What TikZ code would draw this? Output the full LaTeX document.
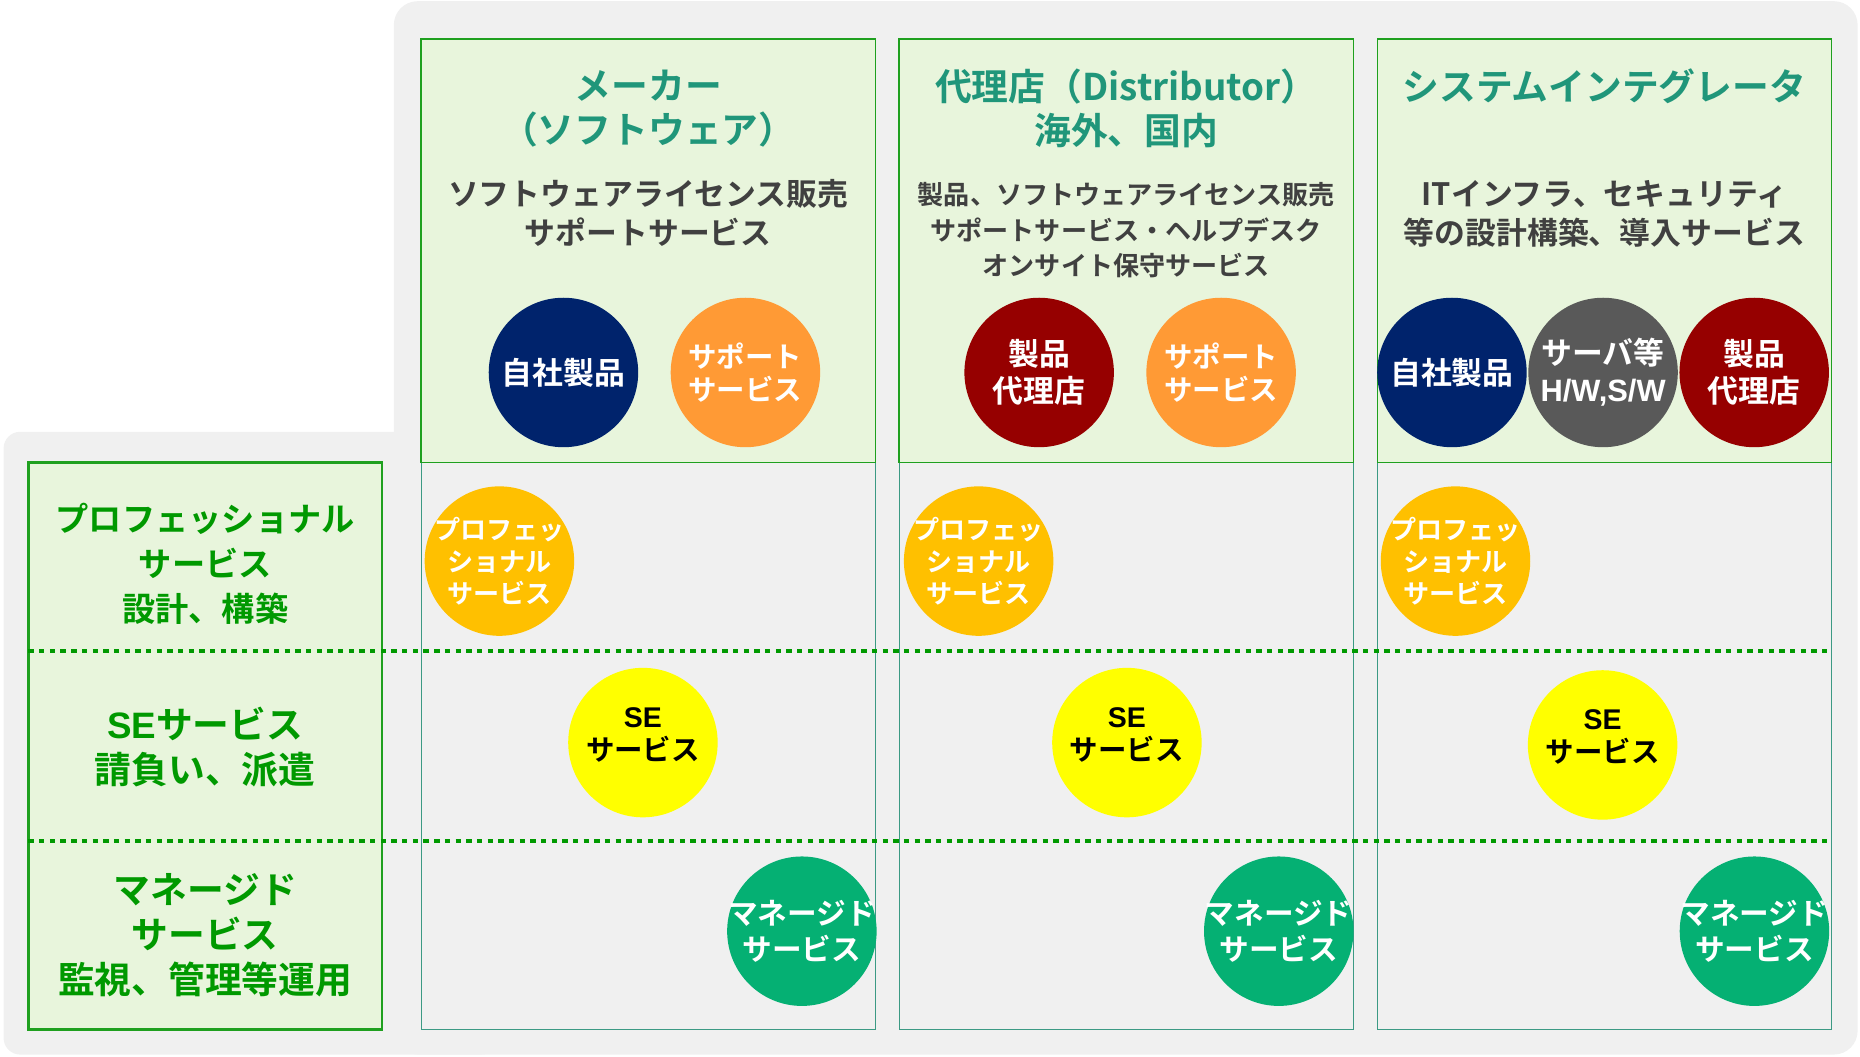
\documentclass[tikz,border=0pt]{standalone}
\usepackage{fontspec}
\setmainfont{Noto Sans CJK JP}[BoldFont=* Bold]
\newfontfamily\arial{Liberation Sans}
\usepackage{tikz}
\usetikzlibrary{positioning}
\definecolor{bggray}{HTML}{F0F0F0}
\definecolor{hdrfill}{HTML}{E8F5DC}
\definecolor{hdrline}{HTML}{1FA01F}
\definecolor{cellline}{HTML}{3C9A84}
\definecolor{lblgreen}{HTML}{009900}
\definecolor{titlegreen}{HTML}{20967A}
\definecolor{descgray}{HTML}{404040}
\definecolor{ownnavy}{HTML}{00236C}
\definecolor{suporange}{HTML}{FF9A35}
\definecolor{dstred}{HTML}{960000}
\definecolor{hwgray}{HTML}{595959}
\definecolor{profgold}{HTML}{FFC000}
\definecolor{seyellow}{HTML}{FFFF00}
\definecolor{mngreen}{HTML}{05B073}
\tikzset{
hdrbox/.style={draw=hdrline, fill=hdrfill, line width=1.2pt, minimum width=383pt, minimum height=357pt, inner sep=0pt},
cellbox/.style={draw=cellline, line width=1pt, minimum width=383pt, minimum height=478pt, inner sep=0pt},
lblbox/.style={draw=hdrline, fill=hdrfill, line width=2pt, minimum width=298pt, minimum height=478pt, inner sep=0pt},
hdrtitle/.style={text=titlegreen, font=\bfseries\fontsize{31}{37}\selectfont, align=center, inner sep=0pt},
desc/.style={text=descgray, font=\bfseries\fontsize{26}{33}\selectfont, align=center, inner sep=0pt},
ball/.style={circle, minimum size=126pt, inner sep=-20pt, text=white, align=center, font=\bfseries\fontsize{24}{28}\selectfont},
bigball/.style={ball, font=\bfseries\fontsize{26}{31}\selectfont},
proball/.style={ball, fill=profgold, font=\bfseries\fontsize{22}{27}\selectfont},
seball/.style={ball, fill=seyellow, text=black, text depth=15pt},
mngball/.style={ball, fill=mngreen, font=\bfseries\fontsize{25}{30}\selectfont},
rowlbl/.style={text=lblgreen, font=\bfseries\fontsize{31}{38}\selectfont, align=center, inner sep=0pt},
divider/.style={draw=lblgreen, line width=3pt, dash pattern=on 4.5pt off 4.5pt}
}
\begin{document}
\begin{tikzpicture}[x=1pt, y=-1pt]
\useasboundingbox (0,0) rectangle (1568,891);
\fill[bggray, rounded corners=20pt] (332,1) rectangle (1566,889);
\fill[bggray, rounded corners=14pt] (3,364) rectangle (420,889);

\node[lblbox] (lb) at (173,629) {};
\node[cellbox] (c1) at (546.5,629) {};
\node[cellbox] (c2) at (949.5,629) {};
\node[cellbox] (c3) at (1352.5,629) {};
\node[hdrbox] (h1) at (546.5,211.5) {};
\node[hdrbox] (h2) at (949.5,211.5) {};
\node[hdrbox] (h3) at (1352.5,211.5) {};

\coordinate (d1) at (24,549);
\coordinate (d2) at (24,709);
\draw[divider] (d1) -- (d1 -| c3.east);
\draw[divider] (d2) -- (d2 -| c3.east);

\node[hdrtitle] (t1) at (546.5,91.5) {メーカー\\（ソフトウェア）};
\node[hdrtitle] (t2) at (949.5,91.5) {代理店（Distributor）\\海外、国内};
\node[hdrtitle] (t3) at (1352.5,73) {システムインテグレータ};
\node[desc] (s1) at (546.5,179.5) {ソフトウェアライセンス販売\\サポートサービス};
\node[desc, font=\bfseries\fontsize{22}{30}\selectfont] (s2) at (949.5,194) {製品、ソフトウェアライセンス販売\\サポートサービス・ヘルプデスク\\オンサイト保守サービス};
\node[desc] (s3) at (1352.5,180) {ITインフラ、セキュリティ\\等の設計構築、導入サービス};

\node[bigball, fill=ownnavy] (own1) at (475,314) {自社製品};
\node[ball, fill=suporange, right=27pt of own1] (sup1) {サポート\\サービス};
\node[bigball, fill=dstred] (dst2) at (876,314) {製品\\代理店};
\node[ball, fill=suporange, right=27pt of dst2] (sup2) {サポート\\サービス};
\node[bigball, fill=ownnavy] (own3) at (1224,314) {自社製品};
\node[bigball, fill=hwgray, right=1pt of own3] (hw3) {サーバ等\\{\arial H/W,S/W}};
\node[bigball, fill=dstred, right=1pt of hw3] (dst3) {製品\\代理店};

\node[proball] (pro1) at (421,473) {プロフェッ\\ショナル\\サービス};
\node[proball] (pro2) at (825,473) {プロフェッ\\ショナル\\サービス};
\node[proball] (pro3) at (1227,473) {プロフェッ\\ショナル\\サービス};
\node[seball] (se1) at (542,626) {{\arial SE}\\サービス};
\node[seball] (se2) at (950,626) {{\arial SE}\\サービス};
\node[seball] (se3) at (1351,628) {{\arial SE}\\サービス};
\node[mngball] (mng1) at (676,785) {マネージド\\サービス};
\node[mngball] (mng2) at (1078,785) {マネージド\\サービス};
\node[mngball] (mng3) at (1479,785) {マネージド\\サービス};

\node[rowlbl, font=\bfseries\fontsize{28}{38}\selectfont] (r1) at (173,475) {プロフェッショナル\\サービス\\設計、構築};
\node[rowlbl] (r2) at (173,630) {{\arial SE}サービス\\請負い、派遣};
\node[rowlbl] (r3) at (173,788.5) {マネージド\\サービス\\監視、管理等運用};
\end{tikzpicture}
\end{document}
